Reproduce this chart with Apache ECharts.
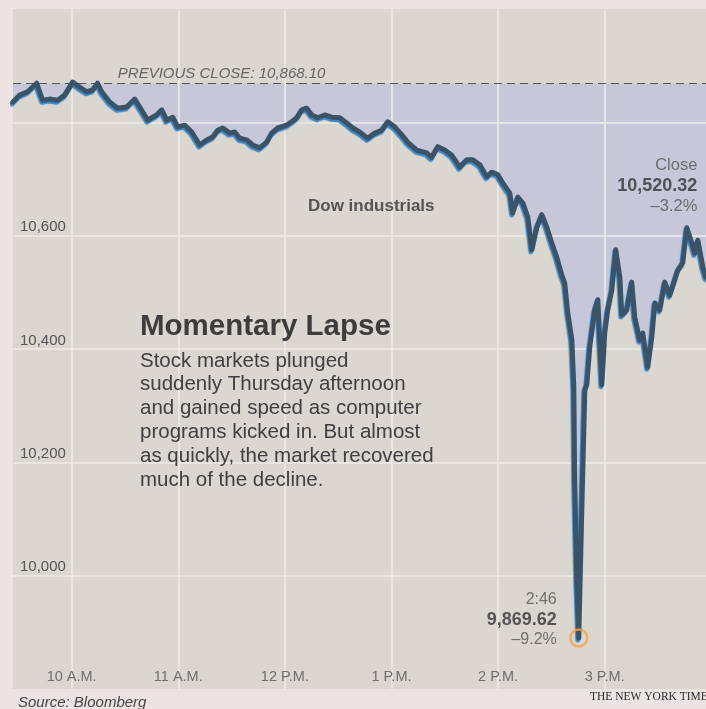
<!DOCTYPE html>
<html><head><meta charset="utf-8">
<script src="https://cdn.jsdelivr.net/npm/echarts@6/dist/echarts.min.js"></script>
<style>html,body{margin:0;padding:0;background:#ede3e3;}#c{width:706px;height:709px;}</style>
</head><body><div id="c"></div>
<script>
// Dow industrials intraday, minutes since midnight
const times = [567, 570.7, 575.2, 580.3, 583.7, 587.6, 592.1, 596.1, 600.6, 604.5,
  608.4, 611.8, 614.6, 616.9, 621.4, 625.9, 631.0, 635.5, 638.3, 642.8,
  647.8, 650.7, 653.5, 656.9, 659.7, 663.6, 667.6, 672.1, 676.0, 679.4,
  682.2, 685.0, 689.0, 691.8, 694.6, 698.5, 701.9, 705.8, 709.8, 712.6,
  716.0, 721.0, 723.8, 726.7, 729.5, 732.3, 735.1, 738.5, 742.4, 746.4,
  750.9, 754.8, 758.2, 762.1, 766.6, 770.6, 774.5, 777.9, 781.8, 785.8,
  789.1, 794.2, 799.8, 802.6, 806.0, 810.0, 813.9, 818.4, 822.4, 825.7,
  829.7, 833.6, 836.4, 839.8, 842.6, 846.6, 848.2, 851.1, 853.9, 856.7,
  859.0, 861.8, 864.6, 867.4, 870.2, 873.0, 875.8, 877.5, 879.2, 881.5,
  882.6, 883.1, 884.3, 885.4, 887.1, 888.8, 889.9, 891.6, 894.4, 896.1,
  898.4, 900.0, 901.7, 904.0, 906.2, 908.5, 909.6, 912.4, 915.2, 916.9,
  919.7, 921.4, 924.2, 926.5, 928.2, 931.0, 933.8, 936.6, 939.4, 941.1,
  943.9, 946.2, 949.0, 950.7, 952.4, 955.2, 956.9, 960];
const values = [10836, 10848, 10854, 10869, 10839, 10841, 10839, 10848, 10871, 10862,
  10854, 10857, 10869, 10854, 10836, 10825, 10827, 10841, 10827, 10804,
  10813, 10822, 10804, 10809, 10792, 10795, 10783, 10760, 10769, 10774,
  10786, 10790, 10781, 10783, 10772, 10769, 10760, 10755, 10765, 10781,
  10790, 10795, 10801, 10808, 10822, 10825, 10813, 10808, 10813, 10809,
  10808, 10799, 10790, 10783, 10772, 10781, 10786, 10801, 10792, 10778,
  10765, 10751, 10746, 10738, 10757, 10751, 10742, 10721, 10734, 10734,
  10725, 10704, 10712, 10708, 10693, 10675, 10640, 10668, 10658, 10633,
  10575, 10615, 10637, 10615, 10587, 10562, 10531, 10516, 10464, 10416,
  10333, 10169, 9992, 9890, 10116, 10328, 10337, 10404, 10469, 10487,
  10337, 10428, 10469, 10504, 10575, 10527, 10460, 10469, 10518, 10456,
  10416, 10428, 10368, 10421, 10481, 10469, 10518, 10495, 10522, 10539,
  10552, 10614, 10587, 10569, 10592, 10545, 10527, 10520.32];
const prevClose = 10868.10;
const xTickMinutes = [600, 660, 720, 780, 840, 900];
const xTickLabels = ['10 A.M.', '11 A.M.', '12 P.M.', '1 P.M.', '2 P.M.', '3 P.M.'];
const yTickValues = [10000, 10200, 10400, 10600];
const yTickLabels = ['10,000', '10,200', '10,400', '10,600'];
const yGridValues = [10000, 10200, 10400, 10600, 10800];
const prevCloseText = 'PREVIOUS CLOSE: 10,868.10';
const lowText = ['2:46', '9,869.62', '\u20139.2%'];
const closeText = ['Close', '10,520.32', '\u20133.2%'];
const seriesName = 'Dow industrials';
const titleText = 'Momentary Lapse';
const bodyText = ['Stock markets plunged', 'suddenly Thursday afternoon', 'and gained speed as computer',
  'programs kicked in. But almost', 'as quickly, the market recovered', 'much of the decline.'];
const sourceText = 'Source: Bloomberg';
const creditText = 'THE NEW YORK TIMES';
// annotation anchors (data space)
const prevLabelAnchor = [626, prevClose];
const nameLabelAnchor = [733, 10651];
const xMin = 567, xMax = 957, yMin = 9800, yMax = 11000;

const F = 'Liberation Sans, Arial, sans-serif';
const BG = '#dad6d0';
const GRIDC = '#eeebe7';
const pts = times.map((t, i) => [t, values[i]]);
let lowIdx = 0;
values.forEach((v, i) => { if (v < values[lowIdx]) lowIdx = i; });
const lastIdx = values.length - 1;

const chart = echarts.init(document.getElementById('c'), null, {renderer: 'canvas'});
chart.setOption({
  animation: false,
  backgroundColor: '#ede3e3',
  grid: {left: 13, right: 0, top: 9, bottom: 20, containLabel: false, show: true, backgroundColor: BG, borderWidth: 0},
  xAxis: {
    type: 'value', min: xMin, max: xMax,
    axisLine: {show: false}, axisTick: {show: false}, splitLine: {show: false}, axisLabel: {show: false}
  },
  yAxis: {
    type: 'value', min: yMin, max: yMax, interval: 200,
    axisLine: {show: false}, axisTick: {show: false}, splitLine: {show: false},
    axisLabel: {
      inside: true, margin: 7, color: '#555', fontSize: 15, fontFamily: F,
      verticalAlign: 'bottom', lineHeight: 17,
      formatter: v => { const k = yTickValues.indexOf(v); return k >= 0 ? yTickLabels[k] : ''; }
    }
  },
  graphic: [
    {type: 'text', z: 50, left: 140, top: 312, style: {text: titleText, fill: '#3d3d3d', font: 'bold 29.5px ' + F}},
    {type: 'text', z: 50, left: 140, top: 349, style: {text: bodyText.join('\n'), fill: '#404040', font: '20.5px ' + F, lineHeight: 23.8}},
    {type: 'text', z: 50, left: 18, top: 695, style: {text: sourceText, fill: '#444', font: 'italic 15px ' + F}},
    {type: 'text', z: 50, left: 590, top: 691, style: {text: creditText, fill: '#2a2a2a', font: '11.5px Liberation Serif, Times New Roman, serif'}}
  ],
  series: [
    // shaded gap: fill from the line up to the top, then cover above previous close
    {type: 'line', data: pts, symbol: 'none', silent: true, z: 2,
     lineStyle: {opacity: 0}, areaStyle: {origin: 'end', color: '#c6c8da', opacity: 1}},
    {type: 'line', data: [[xMin, prevClose], [960, prevClose]], symbol: 'none', silent: true, z: 3,
     lineStyle: {opacity: 0}, areaStyle: {origin: 'end', color: BG, opacity: 1}},
    // grid lines and previous-close reference line
    {type: 'line', data: pts, symbol: 'none', silent: true, z: 4,
     lineStyle: {opacity: 0},
     markLine: {silent: true, symbol: 'none', label: {show: false}, animation: false,
       lineStyle: {color: GRIDC, width: 1.6, type: 'solid'},
       data: xTickMinutes.map(t => ({xAxis: t})).concat(yGridValues.map(v => ({yAxis: v})))
         .concat([{yAxis: prevClose, lineStyle: {color: '#555', width: 1.2, type: [8, 5]}}])}},
    // main line
    {type: 'line', name: seriesName, data: pts, symbol: 'none', z: 5, silent: true,
     lineStyle: {color: '#3a5366', width: 5, join: 'round', cap: 'round',
       shadowColor: '#3b87c8', shadowBlur: 1, shadowOffsetX: -1, shadowOffsetY: 2}},
    // x tick labels
    {type: 'scatter', z: 6, silent: true, symbolSize: 0, clip: false,
     data: xTickMinutes.map((t, i) => ({value: [t, yMin], name: xTickLabels[i]})),
     label: {show: true, position: 'inside', align: 'center', verticalAlign: 'middle', offset: [0, -12],
       formatter: p => p.name, fontSize: 14.5, color: '#555', fontFamily: F}},
    // low point
    {type: 'scatter', z: 7, silent: true, symbol: 'circle', symbolSize: 17, clip: false,
     data: [[times[lowIdx], values[lowIdx]]],
     itemStyle: {color: 'rgba(0,0,0,0)', borderColor: '#f2a24a', borderWidth: 2.5},
     label: {show: true, position: 'inside', align: 'right', verticalAlign: 'middle', offset: [-22, -18],
       formatter: '{a|' + lowText[0] + '}\n{b|' + lowText[1] + '}\n{a|' + lowText[2] + '}',
       rich: {a: {fontSize: 16, color: '#555', fontFamily: F, lineHeight: 20, align: 'right'},
              b: {fontSize: 18, color: '#333', fontWeight: 'bold', fontFamily: F, lineHeight: 20, align: 'right'}}}},
    // close
    {type: 'scatter', z: 7, silent: true, symbolSize: 0, clip: false,
     data: [[times[lastIdx], values[lastIdx]]],
     label: {show: true, position: 'inside', align: 'right', verticalAlign: 'middle', offset: [-14, -95],
       formatter: '{a|' + closeText[0] + '}\n{b|' + closeText[1] + '}\n{a|' + closeText[2] + '}',
       rich: {a: {fontSize: 16.5, color: '#555', fontFamily: F, lineHeight: 20.5, align: 'right'},
              b: {fontSize: 18, color: '#333', fontWeight: 'bold', fontFamily: F, lineHeight: 20.5, align: 'right'}}}},
    {type: 'scatter', z: 7, silent: true, symbolSize: 0, clip: false,
     data: [prevLabelAnchor],
     label: {show: true, position: 'inside', align: 'left', verticalAlign: 'middle', offset: [0, -10],
       formatter: prevCloseText, fontSize: 15, fontStyle: 'italic', color: '#4a4a4a', fontFamily: F}},
    {type: 'scatter', z: 7, silent: true, symbolSize: 0, clip: false,
     data: [nameLabelAnchor],
     label: {show: true, position: 'inside', align: 'left', verticalAlign: 'middle',
       formatter: seriesName, fontSize: 17, fontWeight: 'bold', color: '#333', fontFamily: F}}
  ]
});
</script></body></html>
